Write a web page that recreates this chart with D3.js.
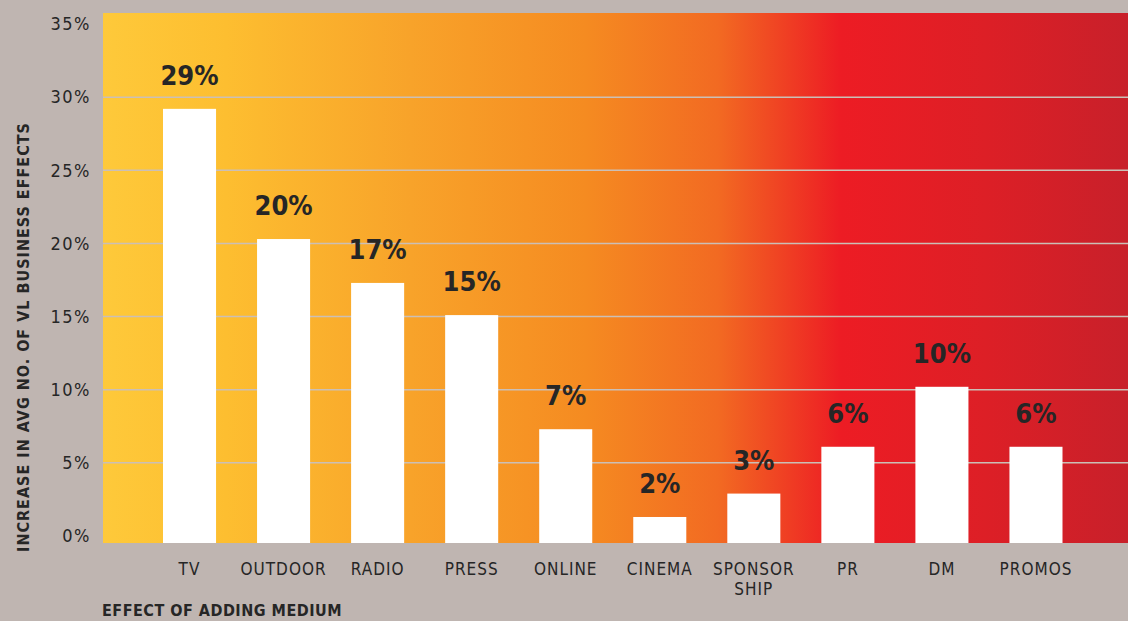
<!DOCTYPE html>
<html>
<head>
<meta charset="utf-8" />
<script src="https://cdn.jsdelivr.net/npm/d3@7/dist/d3.min.js"></script>
<style>
    body { margin: 0; background: #bfb5b1; }
    svg { display: block; }
    text { font-family: "DejaVu Sans Condensed", "Liberation Sans Narrow", sans-serif; fill: #262626; }
</style>
</head>
<body>
<script>
    var categories = ["TV", "OUTDOOR", "RADIO", "PRESS", "ONLINE", "CINEMA", "SPONSOR SHIP", "PR", "DM", "PROMOS"];
    var values = [29.2, 20.3, 17.3, 15.1, 7.3, 1.3, 2.9, 6.1, 10.2, 6.1];
    var valueLabels = ["29%", "20%", "17%", "15%", "7%", "2%", "3%", "6%", "10%", "6%"];
    var yTicks = [0, 5, 10, 15, 20, 25, 30, 35];

    var svgWidth = 1128, svgHeight = 621;
    var plot = {left: 103, right: 1128, top: 13, bottom: 543};

    var svg = d3.select("body").append("svg")
        .attr("width", svgWidth)
        .attr("height", svgHeight);

    // background gradient of plot area
    var grad = svg.append("defs").append("linearGradient")
        .attr("id", "bg")
        .attr("x1", "0%").attr("x2", "100%").attr("y1", "0%").attr("y2", "0%");
    [[0, "#fec93a"], [0.12, "#fdbe30"], [0.3, "#f8a32a"], [0.47, "#f58b21"], [0.6, "#f26a22"],
     [0.72, "#ed1c24"], [0.86, "#dd1f26"], [1, "#c8202a"]].forEach(function(s) {
        grad.append("stop").attr("offset", s[0]).attr("stop-color", s[1]);
    });

    svg.append("rect")
        .attr("x", plot.left).attr("y", plot.top)
        .attr("width", plot.right - plot.left)
        .attr("height", plot.bottom - plot.top)
        .attr("fill", "url(#bg)");

    var x = d3.scaleBand()
        .domain(categories)
        .range([142.5, 1083])
        .paddingInner(0.436)
        .paddingOuter(0.218);

    var y = d3.scaleLinear()
        .domain([0, 35])
        .range([536, 24]);

    // grid lines
    svg.append("g").selectAll("line")
        .data(yTicks.filter(function(d) { return d > 0 && d < 35; }))
        .enter().append("line")
        .attr("x1", plot.left).attr("x2", plot.right)
        .attr("y1", function(d) { return y(d); })
        .attr("y2", function(d) { return y(d); })
        .attr("stroke", "#cbbfb6")
        .attr("stroke-width", 1.5);

    // bars
    svg.append("g").selectAll("rect")
        .data(values)
        .enter().append("rect")
        .attr("x", function(d, i) { return x(categories[i]); })
        .attr("width", x.bandwidth())
        .attr("y", function(d) { return y(d); })
        .attr("height", function(d) { return plot.bottom - y(d); })
        .attr("fill", "#ffffff");

    // value labels
    svg.append("g").selectAll("text")
        .data(values)
        .enter().append("text")
        .attr("x", function(d, i) { return x(categories[i]) + x.bandwidth() / 2; })
        .attr("y", function(d) { return y(d) - 24; })
        .attr("text-anchor", "middle")
        .style("font-size", "27px")
        .style("font-weight", "bold")
        .text(function(d, i) { return valueLabels[i]; });

    // y axis labels
    var yAxis = svg.append("g")
        .attr("transform", "translate(91,0)")
        .call(d3.axisLeft(y).tickValues(yTicks).tickSize(0).tickPadding(0)
            .tickFormat(function(d) { return d + "%"; }));
    yAxis.select(".domain").remove();
    yAxis.selectAll("text")
        .style("font-size", "18px")
        .style("letter-spacing", "1.5px")
        .style("font-family", "\"DejaVu Sans Condensed\", sans-serif")
        .attr("fill", "#262626");

    // x axis labels
    var xAxis = svg.append("g")
        .attr("transform", "translate(0," + plot.bottom + ")")
        .call(d3.axisBottom(x).tickSize(0).tickPadding(0));
    xAxis.select(".domain").remove();
    xAxis.selectAll("text")
        .attr("fill", "#262626")
        .style("font-size", "17px")
        .style("letter-spacing", "1px")
        .style("font-family", "\"DejaVu Sans Condensed\", sans-serif")
        .each(function(d) {
            var t = d3.select(this), words = d.split(" ");
            t.text(null).attr("y", 0).attr("dy", null);
            words.forEach(function(w, i) {
                t.append("tspan").attr("x", 0).attr("y", 32 + i * 20).text(w);
            });
        });

    // axis titles
    svg.append("text")
        .attr("transform", "translate(29,337) rotate(-90)")
        .attr("text-anchor", "middle")
        .style("font-size", "16px")
        .style("font-weight", "bold")
        .style("letter-spacing", "1px")
        .text("INCREASE IN AVG NO. OF VL BUSINESS EFFECTS");

    svg.append("text")
        .attr("x", 102)
        .attr("y", 616)
        .style("font-size", "16px")
        .style("font-weight", "bold")
        .style("letter-spacing", "0.5px")
        .text("EFFECT OF ADDING MEDIUM");
</script>
</body>
</html>
